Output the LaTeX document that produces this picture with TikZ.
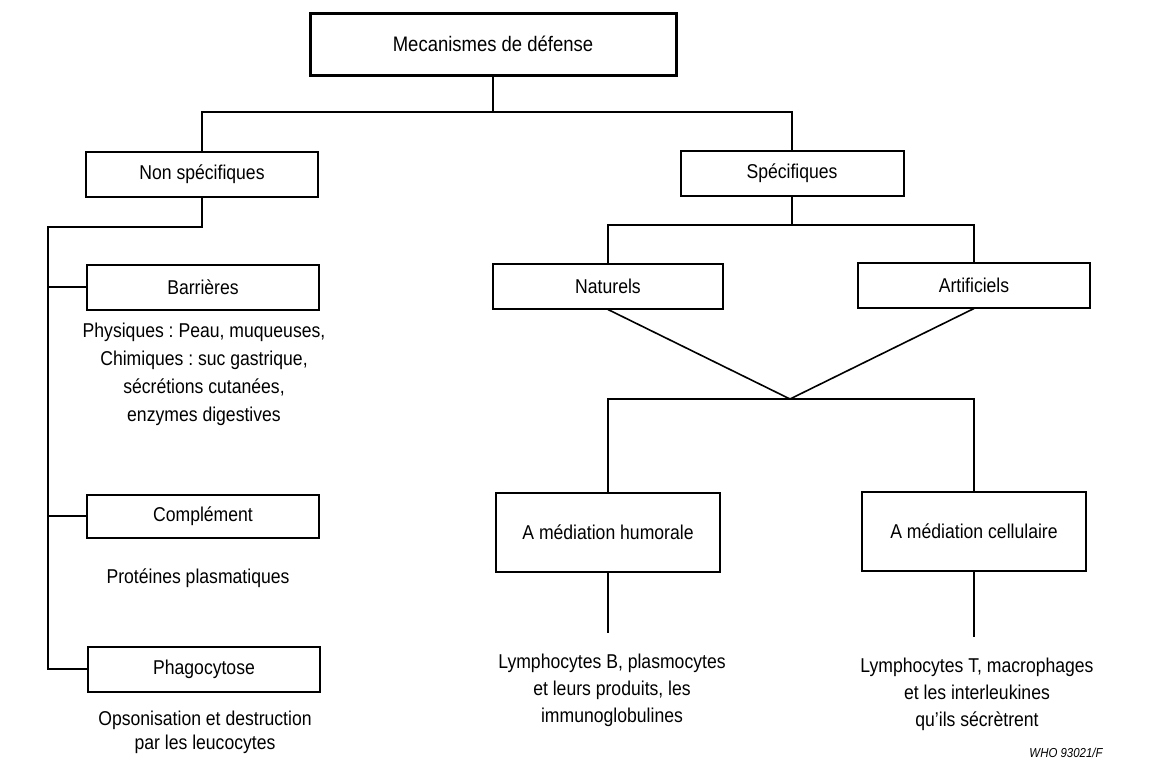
\documentclass[tikz,border=0pt]{standalone}
\usepackage{fontspec}
\setmainfont{Liberation Sans}[FakeStretch=0.88]
\frenchspacing

\begin{document}
\begin{tikzpicture}[x=0.5pt, y=-0.5pt,
    boite/.style={draw, line width=1pt, inner sep=0pt, minimum width=116pt,
        minimum height=22.5pt, font=\fontsize{10}{12}\selectfont},
    legende/.style={align=center, inner sep=0pt, font=\fontsize{10}{14}\selectfont},
    trait/.style={line width=0.8pt}]
            %\draw[lightgray] (0, 0) grid (1162, 772);
            \fill[white] (0, 0) rectangle (1162, 772);

            \node[boite, line width=1.5pt, minimum width=183pt, minimum height=31pt,
                font=\fontsize{10.5}{12}\selectfont] (defense) at (493, 44) {Mecanismes de défense};
            \coordinate (j1) at (493, 112);
            \draw[trait] (defense.south) -- (j1);

            % non specifiques
            \node[boite] (nonspec) at (202, 174) {Non spécifiques};
            \node[boite] (barrieres) at (203, 287) {Barrières};
            \node[boite, minimum height=21.5pt] (complement) at (203, 516) {Complément};
            \node[boite] (phago) at (204, 669) {Phagocytose};
            \node[legende] (barleg) at (204, 374) {Physiques : Peau, muqueuses,\\Chimiques : suc gastrique,\\sécrétions cutanées,\\enzymes digestives};
            \node[legende] (compleg) at (198, 578) {Protéines plasmatiques};
            \node[legende, font=\fontsize{10}{12}\selectfont] (phagoleg) at (205, 732) {Opsonisation et destruction\\par les leucocytes};

            \coordinate (rail) at (48, 227);
            \draw[trait] (nonspec.south) |- (rail) |- (phago.west);
            \draw[trait] (rail |- barrieres.west) -- (barrieres.west);
            \draw[trait] (rail |- complement.west) -- (complement.west);

            % specifiques
            \node[boite, minimum width=111.5pt] (spec) at (792, 173) {Spécifiques};
            \draw[trait] (nonspec.north) |- (j1) -| (spec.north);
            \node[boite, minimum width=115pt] (naturels) at (608, 286) {Naturels};
            \node[boite] (artificiels) at (974, 285) {Artificiels};
            \coordinate (j2) at (792, 225);
            \draw[trait] (spec.south) -- (j2);
            \draw[trait] (naturels.north) |- (j2) -| (artificiels.north);

            \coordinate (v) at (790, 399);
            \draw[trait] (naturels.south) -- (v) -- (artificiels.south);

            \node[boite, minimum width=112pt, minimum height=39.5pt] (humorale) at (608, 532) {A médiation humorale};
            \node[boite, minimum width=112pt, minimum height=39.5pt] (cellulaire) at (974, 531) {A médiation cellulaire};
            \draw[trait] (humorale.north) |- (v) -| (cellulaire.north);

            \coordinate (finhum) at (608, 633);
            \coordinate (fincel) at (974, 637);
            \draw[trait] (humorale.south) -- (finhum);
            \draw[trait] (cellulaire.south) -- (fincel);
            \node[legende, font=\fontsize{10}{13.5}\selectfont] (humleg) at (612, 690) {Lymphocytes B, plasmocytes\\et leurs produits, les\\immunoglobulines};
            \node[legende, font=\fontsize{10}{13.5}\selectfont] (celleg) at (977, 694) {Lymphocytes T, macrophages\\et les interleukines\\qu'ils sécrètrent};

            \node[font=\fontsize{6.5}{8}\selectfont\itshape, inner sep=0pt] (ref) at (1066, 753) {WHO 93021/F};
        \end{tikzpicture}
\end{document}
